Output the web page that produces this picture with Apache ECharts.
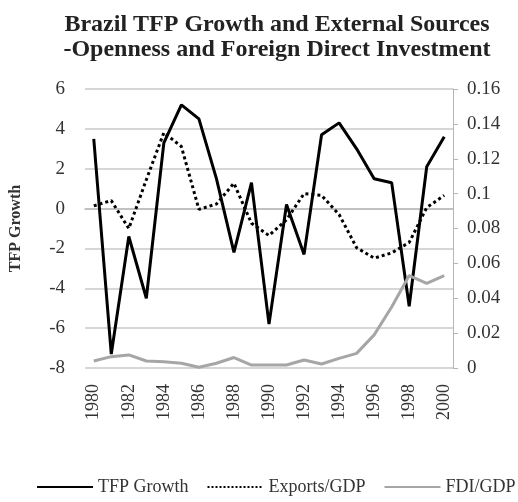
<!DOCTYPE html>
<html>
<head>
<meta charset="utf-8">
<script src="https://cdn.jsdelivr.net/npm/echarts@6/dist/echarts.min.js"></script>
<style>
    html, body { margin: 0; padding: 0; background: #fff; }
    #chart { width: 518px; height: 502px; }
</style>
</head>
<body>
<div id="chart"></div>
<script>
const years = [
    "1980", "1981", "1982", "1983", "1984", "1985", "1986", "1987", "1988", "1989", "1990",
    "1991", "1992", "1993", "1994", "1995", "1996", "1997", "1998", "1999", "2000",
];
/** TFP growth, left axis */
const tfpGrowth = [
    3.5, -7.3, -1.4, -4.5, 3.3, 5.2, 4.5, 1.5, -2.2, 1.3, -5.8,
    0.2, -2.3, 3.7, 4.3, 3.0, 1.5, 1.3, -4.9, 2.1, 3.6,
];
/** Exports/GDP, right axis */
const exportsGdp = [
    0.093, 0.096, 0.080, 0.108, 0.135, 0.127, 0.091, 0.094, 0.106, 0.083, 0.076,
    0.085, 0.100, 0.099, 0.088, 0.069, 0.063, 0.066, 0.072, 0.092, 0.099,
];
/** FDI/GDP, right axis */
const fdiGdp = [
    0.004, 0.0065, 0.0075, 0.004, 0.0036, 0.0027, 0.0004, 0.0027, 0.006, 0.0017, 0.0017,
    0.0017, 0.0046, 0.0023, 0.0055, 0.0084, 0.019, 0.035, 0.053, 0.0486, 0.053,
];

const serif = "Liberation Serif";
const textColor = "#333";

const chart = echarts.init(document.getElementById("chart"));
chart.setOption({
    animation: false,
    title: {
        text: "Brazil TFP Growth and External Sources\n-Openness and Foreign Direct Investment",
        left: 272,
        textAlign: "center",
        top: 7,
        textStyle: {
            fontFamily: serif,
            fontWeight: "bold",
            fontSize: 24,
            lineHeight: 25,
            color: "#222",
        },
    },
    grid: {
        left: 80,
        right: 65,
        top: 89,
        bottom: 134,
    },
    legend: {
        bottom: 6,
        left: 36,
        right: 0,
        padding: 0,
        itemWidth: 56,
        itemHeight: 12,
        itemGap: 18,
        itemStyle: { opacity: 0 },
        textStyle: {
            fontFamily: serif,
            fontSize: 18,
            color: textColor,
        },
        data: ["TFP Growth", "Exports/GDP", "FDI/GDP"],
    },
    xAxis: {
        type: "category",
        data: years,
        boundaryGap: true,
        axisLine: { show: true, lineStyle: { color: "#bbb", width: 1.5 } },
        axisTick: { show: false },
        axisLabel: {
            interval: 1,
            rotate: 90,
            fontFamily: serif,
            fontSize: 18,
            color: textColor,
            margin: 16,
        },
    },
    yAxis: [
        {
            type: "value",
            min: -8,
            max: 6,
            interval: 2,
            name: "TFP Growth",
            nameLocation: "middle",
            nameRotate: 90,
            nameGap: 61,
            nameTextStyle: {
                fontFamily: serif,
                fontWeight: "bold",
                fontSize: 16,
                color: textColor,
            },
            axisLine: { show: false },
            axisTick: { show: false },
            axisLabel: {
                fontFamily: serif,
                fontSize: 19,
                color: textColor,
                margin: 20,
            },
            splitLine: { lineStyle: { color: "#c8c8c8", width: 1.5 } },
        },
        {
            type: "value",
            min: 0,
            max: 0.16,
            interval: 0.02,
            position: "right",
            axisLine: { show: true, lineStyle: { color: "#b5b5b5", width: 1 } },
            axisTick: { show: true, inside: false, length: 5, lineStyle: { color: "#b5b5b5" } },
            axisLabel: {
                fontFamily: serif,
                fontSize: 19,
                color: textColor,
                margin: 14,
            },
            splitLine: { show: false },
        },
    ],
    series: [
        {
            name: "TFP Growth",
            type: "line",
            yAxisIndex: 0,
            data: tfpGrowth,
            symbol: "none",
            lineStyle: { color: "#000", width: 3 },
            itemStyle: { color: "#000" },
        },
        {
            name: "Exports/GDP",
            type: "line",
            yAxisIndex: 1,
            data: exportsGdp,
            symbol: "none",
            lineStyle: { color: "#000", width: 3, type: "dotted" },
            itemStyle: { color: "#000" },
        },
        {
            name: "FDI/GDP",
            type: "line",
            yAxisIndex: 1,
            data: fdiGdp,
            symbol: "none",
            lineStyle: { color: "#a6a6a6", width: 3 },
            itemStyle: { color: "#a6a6a6" },
        },
    ],
});
</script>
</body>
</html>
